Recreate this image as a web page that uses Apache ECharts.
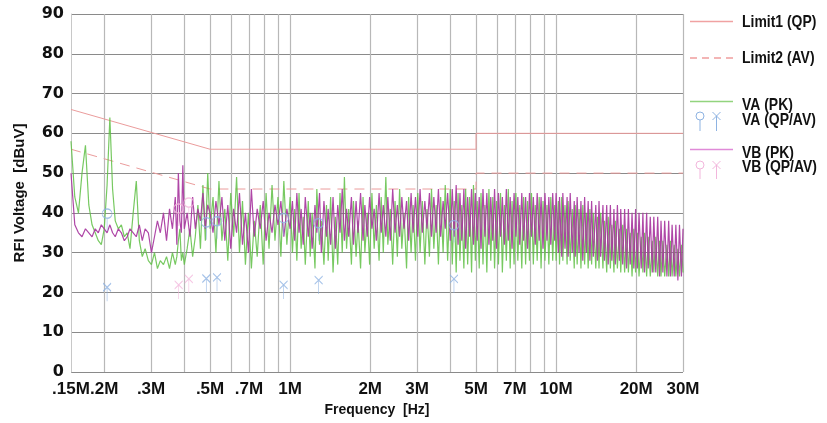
<!DOCTYPE html>
<html>
<head>
<meta charset="utf-8">
<script src="https://cdn.jsdelivr.net/npm/echarts@6/dist/echarts.min.js"></script>
<style>
html,body{margin:0;padding:0;background:#fff;}
#chart{width:827px;height:423px;}
</style>
</head>
<body>
<div id="chart"></div>
<script>
// ---- Data (MHz, dBuV) ----
const freqMHz = [
// 0.15–0.5 MHz
0.150,0.155,0.160,0.165,0.170,0.175,0.180,0.185,0.190,0.195,
0.200,0.205,0.210,0.215,0.220,0.226,0.232,0.238,0.244,0.250,
0.257,0.264,0.271,0.278,0.285,0.293,0.301,0.309,0.317,0.325,
0.334,0.343,0.352,0.361,0.370,0.375,0.380,0.385,0.390,0.395,
0.400,0.410,0.420,0.430,0.440,0.450,0.460,0.470,0.480,0.490,
// 0.5–1 MHz
0.500,0.513,0.526,0.540,0.554,0.568,0.583,0.598,0.613,0.629,
0.645,0.662,0.679,0.697,0.715,0.733,0.752,0.772,0.792,0.812,
0.833,0.855,0.877,0.900,0.923,0.947,0.972,
// 1–4 MHz
1.00,1.02,1.04,1.06,1.08,1.10,1.12,1.14,1.17,1.19,
1.21,1.24,1.26,1.29,1.31,1.34,1.37,1.39,1.42,1.45,
1.48,1.51,1.54,1.57,1.60,1.63,1.66,1.70,1.73,1.77,
1.80,1.84,1.88,1.91,1.95,1.99,2.03,2.07,2.11,2.16,
2.20,2.24,2.29,2.33,2.38,2.43,2.48,2.53,2.58,2.63,
2.68,2.74,2.79,2.85,2.90,2.96,3.02,3.08,3.14,3.21,
3.27,3.34,3.40,3.47,3.54,3.61,3.68,3.76,3.83,3.91,
// 4–10 MHz
4.00,4.07,4.14,4.21,4.28,4.35,4.42,4.50,4.57,4.65,
4.73,4.81,4.89,4.97,5.05,5.14,5.22,5.31,5.40,5.49,
5.59,5.68,5.78,5.87,5.97,6.07,6.18,6.28,6.39,6.50,
6.61,6.72,6.83,6.95,7.06,7.18,7.30,7.43,7.55,7.68,
7.81,7.94,8.08,8.21,8.35,8.49,8.64,8.78,8.93,9.08,
9.24,9.39,9.55,9.71,9.88,
// 10–30 MHz
10.0,10.2,10.3,10.5,10.6,10.8,11.0,11.1,11.3,11.5,
11.7,11.8,12.0,12.2,12.4,12.6,12.8,13.0,13.2,13.4,
13.6,13.8,14.1,14.3,14.5,14.7,15.0,15.2,15.5,15.7,
16.0,16.2,16.5,16.7,17.0,17.3,17.5,17.8,18.1,18.4,
18.7,19.0,19.3,19.6,19.9,20.2,20.5,20.9,21.2,21.5,
21.9,22.2,22.6,23.0,23.3,23.7,24.1,24.5,24.8,25.2,
25.6,26.1,26.5,26.9,27.3,27.8,28.2,28.7,29.1,29.6,
30.0
];

const vaPk = [
58,44,40,50,57,42,37,35,33,32, 36,47,64,46,38,36,37,34,35,31,
40,48,33,29,31,28,27,30,26,28, 27,29,26,30,27,29,33,36,28,30,
27,31,36,29,34,42,31,47,33,50,
36,44,30,48,33,41,28,45,34,49, 30,43,27,40,26,38,29,42,27,45,
31,47,33,44,29,48,32,
44,30,41,28,45,31,39,27,43,29, 40,26,46,32,38,27,42,28,44,25,
39,27,45,30,49,31,41,27,43,29, 38,26,44,30,40,27,45,31,42,28,
44,30,49,32,41,27,43,29,46,31, 40,26,44,30,42,28,45,30,43,27,
41,29,46,31,42,27,44,30,47,28,
46,27,43,25,45,28,42,26,46,27, 44,25,47,28,43,26,45,27,42,25,
46,28,44,26,43,27,45,25,42,28, 46,26,43,27,45,28,42,26,44,27,
43,28,45,27,42,28,44,26,43,28, 42,27,44,28,42,
28,43,27,44,28,42,27,43,28,41, 26,42,27,41,26,42,27,40,26,41,
27,40,26,39,26,40,26,38,25,39, 26,37,25,38,26,36,25,37,25,36,
25,35,24,36,25,35,24,34,25,35, 24,34,24,33,25,34,24,33,24,33,
24,32,24,33,24,32,24,31,24,32, 25
];

const vbPk = [
50,37,35,34,36,35,34,36,35,37, 36,35,37,35,34,36,35,33,34,36,
35,34,37,33,36,35,30,34,38,35, 40,33,41,36,44,32,50,38,35,52,
36,40,34,44,36,41,38,45,36,42,
40,35,43,37,44,33,42,31,41,35, 45,32,40,30,46,34,41,36,43,33,
40,35,42,37,43,34,41,
36,43,33,45,35,41,32,44,34,40, 31,42,35,45,30,43,34,41,32,44,
31,42,35,46,33,41,34,44,32,43, 35,45,33,42,34,44,36,41,33,45,
35,42,34,44,33,46,35,42,34,44, 36,43,33,45,35,44,34,46,35,43,
36,45,34,44,35,46,34,43,36,45,
33,46,34,47,32,45,33,46,31,44, 34,46,32,45,33,44,31,46,34,45,
32,44,33,46,31,45,34,44,32,46, 33,44,31,45,34,44,32,45,33,44,
31,45,34,44,32,45,33,44,31,45, 33,44,32,45,33,
45,30,44,29,45,31,44,29,45,30, 43,29,44,30,43,28,44,30,43,28,
43,29,42,28,43,29,42,28,42,27, 42,28,41,27,42,28,41,27,41,26,
41,27,40,26,41,26,40,26,40,25, 40,26,39,25,39,25,39,24,38,25,
38,24,38,24,37,24,37,23,37,24, 36
];

const limitFreq = [0.15, 0.5, 5, 5, 30];
const limit1Qp  = [66, 56, 56, 60, 60];
const limit2Av  = [56, 46, 46, 50, 50];

const vaQpFreq = [0.205, 0.484, 0.531, 0.945, 1.28, 4.13];
const vaQpVal  = [39.7, 37.5, 37.8, 38.6, 37.3, 36.8];
const vaAvFreq = [0.205, 0.484, 0.531, 0.945, 1.28, 4.13];
const vaAvVal  = [21.3, 23.5, 23.8, 21.9, 23.1, 23.4];
const vbQpFreq = [0.381, 0.416];
const vbQpVal  = [41.0, 42.5];
const vbAvFreq = [0.381, 0.416];
const vbAvVal  = [21.9, 23.4];

const xGridValues  = [0.2,0.3,0.4,0.5,0.6,0.7,0.8,0.9,1,2,3,4,5,6,7,8,9,10,20,30];
const xLabelValues = [0.15,0.2,0.3,0.5,0.7,1,2,3,5,7,10,20,30];
const xLabelTexts  = ['.15M','.2M','.3M','.5M','.7M','1M','2M','3M','5M','7M','10M','20M','30M'];

// ---- helpers ----
function zip(xs, ys){ const n=Math.min(xs.length, ys.length); const o=[]; for(let i=0;i<n;i++) o.push([xs[i], ys[i]]); return o; }
function xLabel(v){
  if(!(v>0)) return '';
  let best=0, bd=Infinity;
  for(let i=0;i<xLabelValues.length;i++){ const d=Math.abs(Math.log(v)-Math.log(xLabelValues[i])); if(d<bd){bd=d;best=i;} }
  return bd<0.02 ? xLabelTexts[best] : '';
}
// nudge the end values inward so the label filter keeps them
const xLabelPositions = xLabelValues.map((v,i)=> i===0 ? v*1.000001 : (i===xLabelValues.length-1 ? v*0.999999 : v));

const COL_LIMIT = '#eb9c9c';
const COL_VA = '#5fc045';
const COL_VB = '#a8379f';
const COL_VA_M = '#8eb3e2';
const COL_VB_M = '#f2b6dc';
const QP_PATH = 'path://M5,0.5A4.5,4.5,0,1,1,4.99,0.5ZM5,9.5L5,22';
const AV_PATH = 'path://M1,1L9,9M9,1L1,9M5,5L5,19';
const SANS = '"Liberation Sans",Arial,sans-serif';

const chart = echarts.init(document.getElementById('chart'), null, {renderer:'canvas'});

function legendText(txt, x, y){
  return { type: 'text', x: x, y: y, scaleX: 0.82, scaleY: 1,
    style: { text: txt, fontFamily: SANS, fontWeight: 'bold', fontSize: 17, fill: '#111', verticalAlign: 'middle' } };
}
function seg(x1,y1,x2,y2,color){
  return { type: 'polyline', shape: { points: [[x1,y1],[x2,y2]] }, style: { stroke: color, lineWidth: 1, fill: null } };
}
function hbar(x1,x2,y,color){
  return { type: 'rect', shape: { x: x1, y: y - 0.8, width: x2 - x1, height: 1.6 }, style: { fill: color } };
}
function dashes(x1,x2,y,color,dash,gap){
  const out=[];
  for(let x=x1; x<x2; x+=dash+gap){ out.push(hbar(x, Math.min(x+dash, x2), y, color)); }
  return out;
}

const graphics = [].concat(
  [hbar(690, 733, 21.5, '#f0a2a2'), legendText('Limit1 (QP)', 742, 22)],
  dashes(690, 733, 58, '#f0a2a2', 7, 5),
  [legendText('Limit2 (AV)', 742, 58),
   hbar(690, 733, 101.5, '#92d47e'),
   legendText('VA (PK)', 742, 105.5),
   { type: 'circle', shape: { cx: 700, cy: 116, r: 4 }, style: { fill: null, stroke: COL_VA_M, lineWidth: 1 } },
   seg(700, 120, 700, 131, COL_VA_M),
   seg(712.5, 112, 720.5, 120, COL_VA_M),
   seg(720.5, 112, 712.5, 120, COL_VA_M),
   seg(716.5, 116, 716.5, 131, COL_VA_M),
   legendText('VA (QP/AV)', 742, 120),
   hbar(690, 733, 149.5, '#e08ad8'),
   legendText('VB (PK)', 742, 153),
   { type: 'circle', shape: { cx: 700, cy: 165, r: 4 }, style: { fill: null, stroke: COL_VB_M, lineWidth: 1 } },
   seg(700, 169, 700, 179, COL_VB_M),
   seg(712.5, 161, 720.5, 169, COL_VB_M),
   seg(720.5, 161, 712.5, 169, COL_VB_M),
   seg(716.5, 165, 716.5, 179, COL_VB_M),
   legendText('VB (QP/AV)', 742, 167.5)]
);

const option = {
  animation: false,
  backgroundColor: '#ffffff',
  grid: { left: 71, right: 144, top: 14, bottom: 51, containLabel: false, outerBoundsMode: 'none' },
  xAxis: {
    type: 'log', logBase: 10, min: 0.15, max: 30,
    name: 'Frequency  [Hz]', nameLocation: 'middle', nameGap: 31,
    nameTextStyle: { fontFamily: SANS, fontWeight: 'bold', fontSize: 14, color: '#111' },
    axisLine: { show: false },
    axisTick: { show: false, customValues: xGridValues },
    axisLabel: { customValues: xLabelPositions, formatter: xLabel, margin: 9, hideOverlap: false,
      showMinLabel: true, showMaxLabel: true,
      fontFamily: SANS, fontWeight: 'bold', fontSize: 17, color: '#111' },
    splitLine: { show: true, lineStyle: { color: '#b8b8b8', width: 1.2 } }
  },
  yAxis: {
    type: 'value', min: 0, max: 90, interval: 10,
    name: 'RFI Voltage  [dBuV]', nameLocation: 'middle', nameGap: 44,
    nameTextStyle: { fontFamily: SANS, fontWeight: 'bold', fontSize: 15, color: '#111' },
    axisLine: { show: true, lineStyle: { color: '#c8c8c8', width: 1 } },
    axisTick: { show: false },
    axisLabel: { margin: 7, fontFamily: '"DejaVu Sans",sans-serif', fontWeight: 'bold', fontSize: 16, color: '#111' },
    splitLine: { show: true, lineStyle: { color: '#8a8a8a', width: 1 } }
  },
  series: [
    { name: 'Limit1 (QP)', type: 'line', data: zip(limitFreq, limit1Qp), symbol: 'none', z: 2,
      lineStyle: { color: COL_LIMIT, width: 1 } },
    { name: 'Limit2 (AV)', type: 'line', data: zip(limitFreq, limit2Av), symbol: 'none', z: 2,
      lineStyle: { color: COL_LIMIT, width: 1, type: [10, 7] } },
    { name: 'VA (PK)', type: 'line', data: zip(freqMHz, vaPk), symbol: 'none', z: 3,
      lineStyle: { color: COL_VA, width: 1.2, opacity: 0.85 } },
    { name: 'VB (PK)', type: 'line', data: zip(freqMHz, vbPk), symbol: 'none', z: 4,
      lineStyle: { color: COL_VB, width: 1.2, opacity: 0.92 } },
    { name: 'VA (QP)', type: 'scatter', data: zip(vaQpFreq, vaQpVal), z: 6,
      symbol: QP_PATH, symbolSize: [10, 22], symbolOffset: [0, 6],
      itemStyle: { color: 'rgba(0,0,0,0)', borderColor: COL_VA_M, borderWidth: 1 } },
    { name: 'VA (AV)', type: 'scatter', data: zip(vaAvFreq, vaAvVal), z: 6,
      symbol: AV_PATH, symbolSize: [8, 18], symbolOffset: [0, 5],
      itemStyle: { color: 'rgba(0,0,0,0)', borderColor: COL_VA_M, borderWidth: 1 } },
    { name: 'VB (QP)', type: 'scatter', data: zip(vbQpFreq, vbQpVal), z: 5,
      symbol: QP_PATH, symbolSize: [10, 22], symbolOffset: [0, 6],
      itemStyle: { color: 'rgba(0,0,0,0)', borderColor: COL_VB_M, borderWidth: 1 } },
    { name: 'VB (AV)', type: 'scatter', data: zip(vbAvFreq, vbAvVal), z: 5,
      symbol: AV_PATH, symbolSize: [8, 18], symbolOffset: [0, 5],
      itemStyle: { color: 'rgba(0,0,0,0)', borderColor: COL_VB_M, borderWidth: 1 } }
  ],
  graphic: graphics
};
chart.setOption(option);
</script>
</body>
</html>
